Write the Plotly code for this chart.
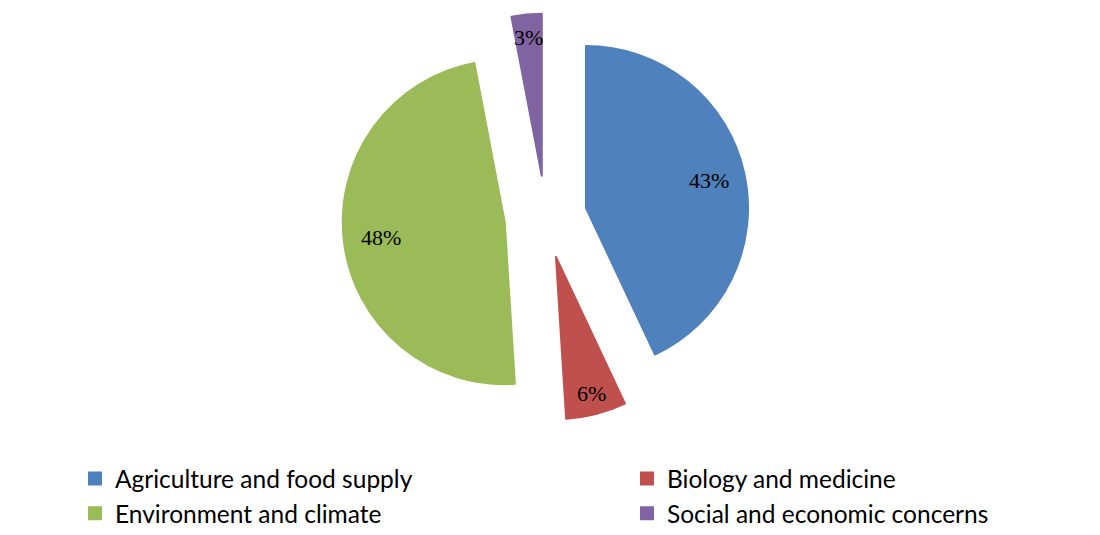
import math
import plotly.graph_objects as go

# ---- data ----
categories = ["Agriculture and food supply", "Biology and medicine",
              "Environment and climate", "Social and economic concerns"]
shares = [43, 6, 48, 3]

# ---- style / layout ----
colors = ["#4F81BD", "#C0504D", "#9BBB59", "#8064A2"]
pulls = [0.255, 0.255, 0.255, 0.255]
label_radius = [0.78, 0.87, 0.77, 0.86]   # label distance from slice apex, in radii

W, H = 1100, 535
CX, CY, R = 537.7, 209.0, 162.0           # pie centre / radius in px (page has 8px body margin)
box = 2 * R * (1 + max(pulls))
dom_x = [(CX - box / 2) / W, (CX + box / 2) / W]
dom_y = [1 - (CY + box / 2) / H, 1 - (CY - box / 2) / H]

fig = go.Figure(go.Pie(
    labels=categories,
    values=shares,
    sort=False,
    direction="clockwise",
    rotation=0,
    pull=pulls,
    marker=dict(colors=colors, line=dict(color=colors, width=2)),
    textinfo="none",
    hoverinfo="label+percent",
    domain=dict(x=dom_x, y=dom_y),
))

# percentage labels placed along each slice's mid-angle
total = sum(shares)
r_px = box / (2 + 2 * max(pulls))
cum = 0
annotations = []
for v, p, f in zip(shares, pulls, label_radius):
    mid = (cum + v / 2) / total * 2 * math.pi
    cum += v
    d = (p + f) * r_px
    x = CX + d * math.sin(mid)
    y = CY - d * math.cos(mid)
    annotations.append(dict(
        x=x / W, y=1 - y / H, xref="paper", yref="paper",
        text=f"{round(v / total * 100)}%", showarrow=False,
        xanchor="center", yanchor="middle",
        font=dict(family="Liberation Serif", size=22, color="black"),
    ))

fig.update_layout(
    width=W, height=H,
    margin=dict(l=0, r=0, t=0, b=0, autoexpand=False),
    paper_bgcolor="white", plot_bgcolor="white",
    annotations=annotations,
    showlegend=True,
    legend=dict(
        orientation="h",
        x=0.0609, xanchor="left",
        y=0.1626, yanchor="top",
        entrywidth=507, entrywidthmode="pixels",
        font=dict(family="Lato", size=24.5, color="black"),
        traceorder="normal",
        bgcolor="rgba(0,0,0,0)",
    ),
)

fig.write_html("out.html")
